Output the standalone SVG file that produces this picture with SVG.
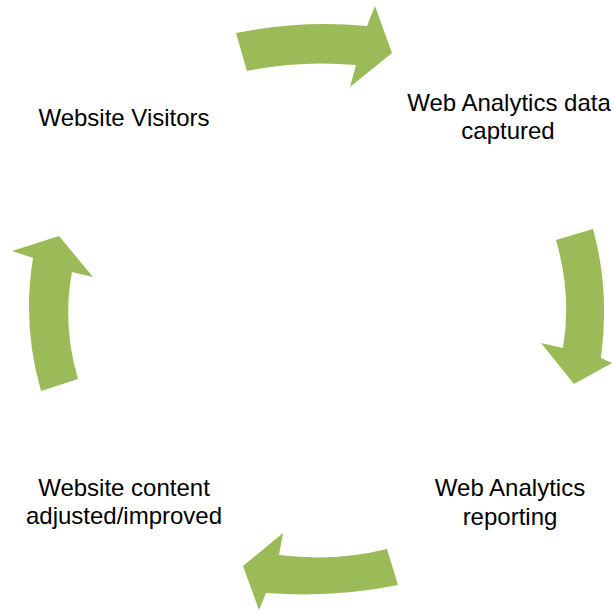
<svg xmlns="http://www.w3.org/2000/svg" width="612" height="612" viewBox="0 0 612 612">
<style>
.arrow{fill:#9BBB59;stroke:none}
.lbl{font-family:"Liberation Sans",Arial,sans-serif;font-size:24px;fill:#000;text-anchor:middle}
</style>
<rect width="612" height="612" fill="#fff"/>
<g id="connectors">
<path id="arrow-top" class="arrow" d="M236,33 Q300,20 367,26 L375,6 L392,53 L350,87 L356,65 Q300,60 247,71 Z"/>
<path id="arrow-right" class="arrow" d="M556,240 L593,229 Q610,290 601,358 L612,363 L574,384 L541,343 L563,348 Q572,295 556,240 Z"/>
<path id="arrow-bottom" class="arrow" d="M387,549 Q335,562 279,555 L283,533 L243,566 L259,610 L266,593 Q335,598 398,585 Z"/>
<path id="arrow-left" class="arrow" d="M41,391 L78,379 Q62,325 72,272 L93,277 L59,236 L12,251 L33,258 Q22,325 41,391 Z"/>
</g>
<g id="node-visitors"><text class="lbl" x="124" y="126">Website Visitors</text></g>
<g id="node-captured"><text class="lbl" x="509" y="111">Web Analytics data</text><text class="lbl" x="508" y="139">captured</text></g>
<g id="node-reporting"><text class="lbl" x="510" y="496">Web Analytics</text><text class="lbl" x="510" y="525">reporting</text></g>
<g id="node-adjusted"><text class="lbl" x="124" y="496">Website content</text><text class="lbl" x="124" y="524">adjusted/improved</text></g>
</svg>
